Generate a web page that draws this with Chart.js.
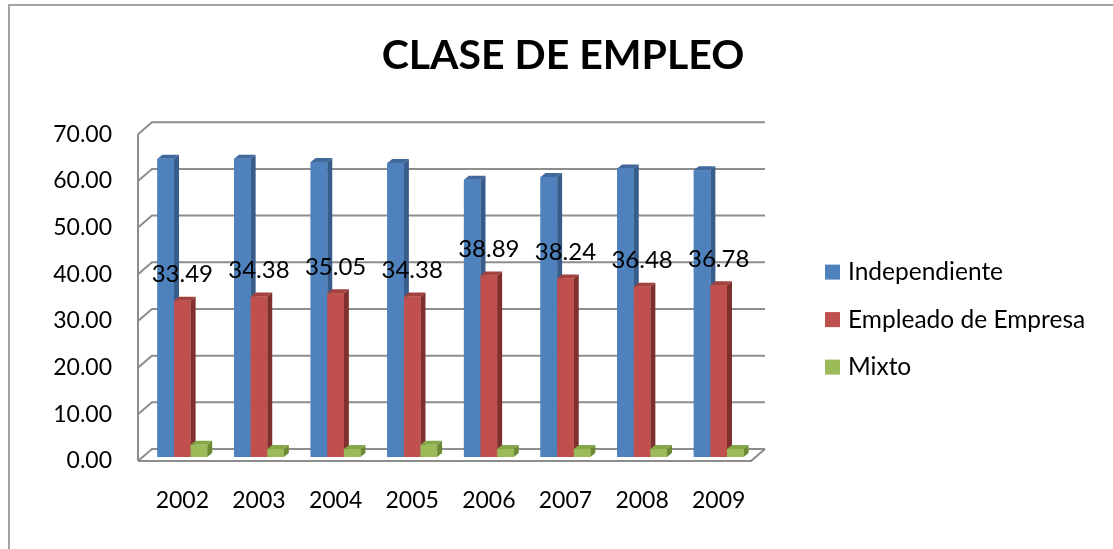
<!DOCTYPE html>
<html>
<head>
<meta charset="utf-8">
<title>Clase de empleo</title>
<script src="https://cdn.jsdelivr.net/npm/chart.js@4.4.0/dist/chart.umd.min.js"></script>
<style>
  html, body { margin: 0; padding: 0; background: #fff; overflow: hidden; }
  .c-frame { position: absolute; left: 8px; top: 4px; width: 1300px; height: 800px; border-left: 2px solid #a3a3a3; border-top: 2px solid #a3a3a3; }
  .c-chart { position: absolute; left: 0; top: 0; width: 1113px; height: 549px; }
</style>
</head>
<body>
<div class="c-frame"></div>
<div class="c-chart"><canvas id="empleoChart" width="1113" height="549"></canvas></div>
<script>
'use strict';
const years = ['2002', '2003', '2004', '2005', '2006', '2007', '2008', '2009'];
const independiente = [63.9, 63.9, 63.2, 63.0, 59.4, 60.0, 61.8, 61.4];
const empleado = [33.49, 34.38, 35.05, 34.38, 38.89, 38.24, 36.48, 36.78];
const mixto = [2.6, 1.7, 1.7, 2.6, 1.7, 1.7, 1.7, 1.7];
const seriesNames = ['Independiente', 'Empleado de Empresa', 'Mixto'];
const yTickValues = [0, 10, 20, 30, 40, 50, 60, 70];

const fontName = 'Lato, "Open Sans", sans-serif';
let chart;

// fake 3d: walls are shifted from the bar plane, bars get a side + top face
const wallFront = { dx: -6, dy: 4 };
const wallBack = { dx: 8, dy: -8 };
const barDepth = { dx: 5, dy: -4 };

const walls3d = {
    id: 'walls3d',
    beforeDatasetsDraw(c) {
        const ctx = c.ctx, a = c.chartArea, y = c.scales.y;
        const p0 = y.getPixelForValue(y.min);
        ctx.save();
        ctx.strokeStyle = '#8d8d8d';
        ctx.lineWidth = 2;
        ctx.beginPath();
        ctx.moveTo(a.left + wallFront.dx, p0 + wallFront.dy);
        ctx.lineTo(a.left + wallFront.dx, y.getPixelForValue(y.max) + wallFront.dy);
        for (const v of yTickValues) {
            const py = y.getPixelForValue(v);
            ctx.moveTo(a.left + wallFront.dx, py + wallFront.dy);
            ctx.lineTo(a.left + wallBack.dx, py + wallBack.dy);
            ctx.lineTo(a.right + wallBack.dx, py + wallBack.dy);
        }
        // floor front + right edge
        ctx.moveTo(a.left + wallFront.dx, p0 + wallFront.dy);
        ctx.lineTo(a.right + wallFront.dx, p0 + wallFront.dy);
        ctx.lineTo(a.right + wallBack.dx, p0 + wallBack.dy);
        ctx.stroke();
        ctx.restore();
    }
};

const bars3d = {
    id: 'bars3d',
    afterDatasetsDraw(c) {
        const ctx = c.ctx;
        const dx = barDepth.dx, dy = barDepth.dy;
        ctx.save();
        c.data.datasets.forEach((ds, i) => {
            c.getDatasetMeta(i).data.forEach(bar => {
                const { x, y, base, width } = bar.getProps(['x', 'y', 'base', 'width'], true);
                const l = x - width / 2, r = x + width / 2;
                ctx.fillStyle = ds.sideColor;
                ctx.beginPath();
                ctx.moveTo(r, base);
                ctx.lineTo(r, y);
                ctx.lineTo(r + dx, y + dy);
                ctx.lineTo(r + dx, base + dy);
                ctx.closePath();
                ctx.fill();
                ctx.fillStyle = ds.topColor;
                ctx.beginPath();
                ctx.moveTo(l, y);
                ctx.lineTo(r, y);
                ctx.lineTo(r + dx, y + dy);
                ctx.lineTo(l + dx, y + dy);
                ctx.closePath();
                ctx.fill();
                ctx.fillStyle = ds.backgroundColor;
                ctx.fillRect(l, y, width, base - y);
            });
        });
        ctx.restore();
    }
};

// value labels only on "Empleado de Empresa"
const empleadoLabels = {
    id: 'empleadoLabels',
    afterDatasetsDraw(c) {
        const ctx = c.ctx;
        ctx.save();
        ctx.font = `24px ${fontName}`;
        ctx.fillStyle = '#000';
        ctx.textAlign = 'center';
        ctx.textBaseline = 'middle';
        c.getDatasetMeta(1).data.forEach((bar, i) => {
            ctx.fillText(empleado[i].toFixed(2), bar.x, bar.y - 26);
        });
        ctx.restore();
    }
};

const sideLegend = {
    id: 'sideLegend',
    afterDraw(c) {
        const ctx = c.ctx, a = c.chartArea;
        const x = a.right + 68;
        const midY = (a.top + a.bottom) / 2 + 26;
        ctx.save();
        ctx.font = `24.5px ${fontName}`;
        ctx.textAlign = 'left';
        ctx.textBaseline = 'middle';
        c.data.datasets.forEach((ds, i) => {
            const ry = midY + (i - 1) * 47.5;
            ctx.fillStyle = ds.backgroundColor;
            ctx.fillRect(x, ry - 7.5, 15, 15);
            ctx.fillStyle = '#000';
            ctx.fillText(ds.label, x + 23, ry);
        });
        ctx.restore();
    }
};

const loadGraph = function () {
    const ctx = document.getElementById('empleoChart').getContext('2d');
    chart = new Chart(ctx, {
        type: 'bar',
        data: {
            labels: years,
            datasets: [{
                label: seriesNames[0],
                data: independiente,
                backgroundColor: '#4f81bd',
                sideColor: '#385d8a',
                topColor: '#41699b'
            }, {
                label: seriesNames[1],
                data: empleado,
                backgroundColor: '#c0504d',
                sideColor: '#7f302e',
                topColor: '#a3413e'
            }, {
                label: seriesNames[2],
                data: mixto,
                backgroundColor: '#9bbb59',
                sideColor: '#6b8a34',
                topColor: '#86a64a'
            }]
        },
        options: {
            responsive: false,
            animation: false,
            layout: { padding: { left: 13, top: 0, right: 0, bottom: 0 } },
            datasets: { bar: { categoryPercentage: 0.65, barPercentage: 1 } },
            plugins: {
                legend: { display: false },
                tooltip: { enabled: false },
                title: {
                    display: true,
                    text: 'CLASE DE EMPLEO',
                    color: '#000',
                    font: { family: fontName, size: 41, weight: 'bold' },
                    padding: { top: 31, bottom: 50 }
                }
            },
            scales: {
                x: {
                    grid: { display: false, drawTicks: false },
                    border: { display: false },
                    ticks: { color: '#000', font: { family: fontName, size: 23 }, padding: 30 },
                    afterFit: s => { s.height = 92; }
                },
                y: {
                    min: 0,
                    max: 70,
                    afterBuildTicks: s => { s.ticks = yTickValues.map(v => ({ value: v })); },
                    grid: { display: false, drawTicks: false },
                    border: { display: false },
                    ticks: {
                        color: '#000',
                        font: { family: fontName, size: 23 },
                        padding: 32,
                        labelOffset: 4,
                        callback: v => Number(v).toFixed(2)
                    },
                    afterFit: s => { s.width = 131; }
                },
                // keeps room on the right for the legend
                legendSpace: {
                    type: 'linear',
                    position: 'right',
                    grid: { display: false, drawTicks: false },
                    border: { display: false },
                    ticks: { display: false },
                    afterFit: s => { s.width = 356; }
                }
            }
        },
        plugins: [walls3d, bars3d, empleadoLabels, sideLegend]
    });
};

document.addEventListener('DOMContentLoaded', function () {
    loadGraph();
});
</script>
</body>
</html>
